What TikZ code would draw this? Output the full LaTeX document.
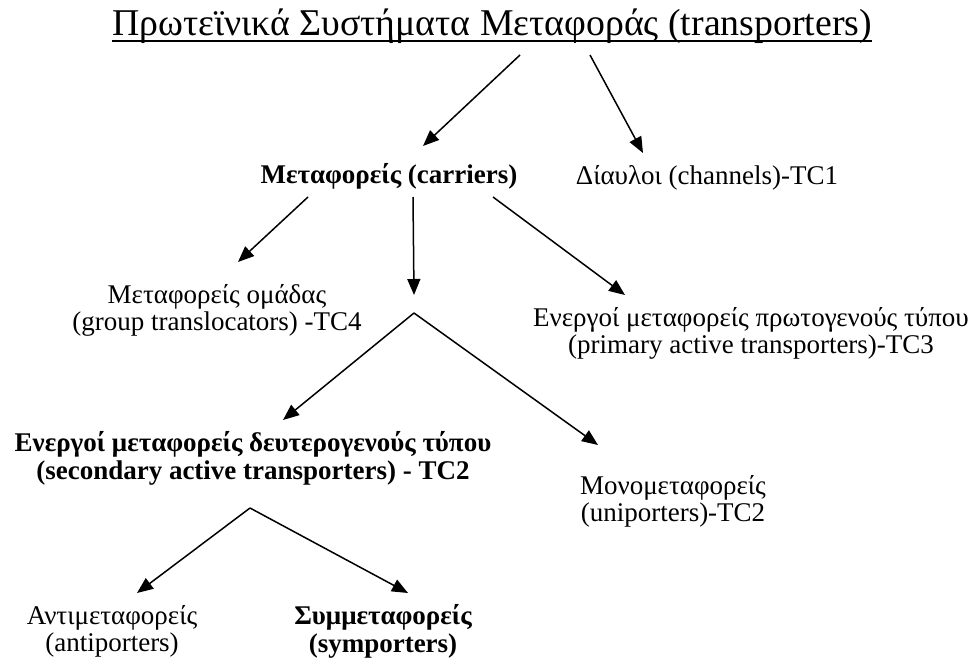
\documentclass[tikz,border=0pt]{standalone}
\usepackage{fontspec}
\setmainfont{Liberation Serif}
\usetikzlibrary{arrows.meta}

\tikzset{
  txt/.style={inner sep=0pt, align=center, font=\fontsize{27}{27}\selectfont},
  btxt/.style={txt, font=\fontsize{27}{28}\selectfont\bfseries},
  arr/.style={line width=1.5pt, -{Triangle[length=16pt, width=13pt]}}
}

\begin{document}
\begin{tikzpicture}[x=1pt, y=-1pt]
\useasboundingbox (0,0) rectangle (980,664);

% Τίτλος
\node[inner sep=0pt, anchor=base, font=\fontsize{37.8}{40}\selectfont] (title) at (492,35) {Πρωτεϊνικά Συστήματα Μεταφοράς (transporters)};
\draw[line width=1.5pt] ([yshift=-6pt]title.base west) -- ([yshift=-6pt]title.base east);

% Πρώτο επίπεδο
\node[btxt, anchor=base] (carriers) at (389,183) {Μεταφορείς (carriers)};
\node[txt, anchor=base] (channels) at (707,184) {Δίαυλοι (channels)-TC1};

% Δεύτερο επίπεδο
\node[txt] (group) at (217,310) {Μεταφορείς ομάδας\\(group translocators) -TC4};
\node[txt] (primary) at (751,333) {Ενεργοί μεταφορείς πρωτογενούς τύπου\\(primary active transporters)-TC3};
\coordinate (split1) at (414,313);

% Τρίτο επίπεδο
\node[btxt] (secondary) at (253,458) {Ενεργοί μεταφορείς δευτερογενούς τύπου\\(secondary active transporters) - TC2};
\node[txt] (uni) at (673,501) {Μονομεταφορείς\\(uniporters)-TC2};
\coordinate (split2) at (250,508);

% Τέταρτο επίπεδο
\node[txt] (anti) at (112,631) {Αντιμεταφορείς\\(antiporters)};
\node[btxt] (sym) at (383,631) {Συμμεταφορείς\\(symporters)};

% Βέλη από τον τίτλο
\draw[arr] ([shift={(28,20)}]title.base) -- ([shift={(34,-37)}]carriers.base);
\draw[arr] ([shift={(98,20)}]title.base) -- ([shift={(-64,-31)}]channels.base);

% Βέλη από τους μεταφορείς
\draw[arr] ([shift={(-81,14)}]carriers.base) -- ([shift={(21,-48)}]group.center);
\draw[arr] ([shift={(24,14)}]carriers.base) -- ([shift={(0,-18)}]split1);
\draw[arr] ([shift={(104,14)}]carriers.base) -- ([shift={(-126,-38)}]primary.center);

% Διακλαδώσεις
\draw[arr] (split1) -- ([shift={(30,-38)}]secondary.center);
\draw[arr] (split1) -- ([shift={(-75,-56)}]uni.center);
\draw[arr] (split2) -- ([shift={(25,-38)}]anti.center);
\draw[arr] (split2) -- ([shift={(25,-38)}]sym.center);

\end{tikzpicture}
\end{document}
